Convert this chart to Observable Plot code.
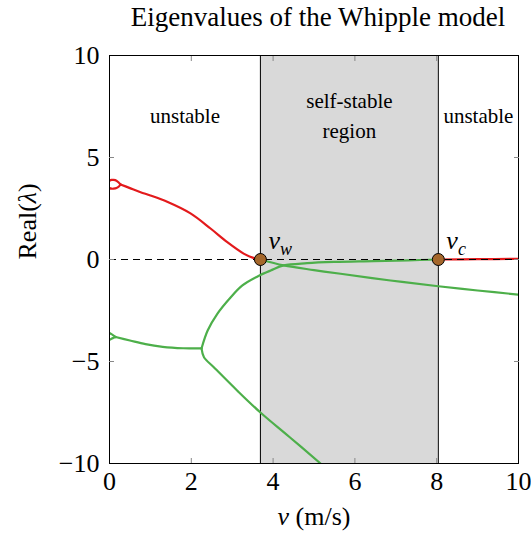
<!DOCTYPE html>
<html><head><meta charset="utf-8">
<script src="https://cdn.jsdelivr.net/npm/d3@7"></script>
<script src="https://cdn.jsdelivr.net/npm/@observablehq/plot@0.6"></script>
<style>
body{margin:0;background:#fff}
#chart svg, #chart svg text, #chart svg g {font-family: "Liberation Serif", "Times New Roman", serif !important;}
</style>
</head><body><div id="chart"></div>
<script>
// ---- data ----
const title = "Eigenvalues of the Whipple model";
const xTicks = [0, 2, 4, 6, 8, 10];
const yTicks = [-10, -5, 0, 5, 10];
const vW = 3.69;   // weave speed
const vC = 8.04;   // capsize speed
const regionLabels = ["unstable", "self-stable\nregion", "unstable"];

// red (unstable) branches
const redLoopUpV = [0, 0.05, 0.1, 0.17, 0.23, 0.27];
const redLoopUpRe = [3.86, 3.9, 3.9, 3.86, 3.76, 3.68];
const redLoopLoV = [0, 0.05, 0.1, 0.17, 0.23, 0.27];
const redLoopLoRe = [3.5, 3.47, 3.47, 3.5, 3.58, 3.68];
const redWeaveV = [0.27, 0.5, 0.76, 1.0, 1.41, 1.98, 2.47, 2.88, 3.28, 3.5, 3.69];
const redWeaveRe = [3.68, 3.5, 3.3, 3.14, 2.83, 2.26, 1.52, 0.85, 0.29, 0.09, 0];
const redCapsizeV = [8.04, 9.0, 10];
const redCapsizeRe = [0, 0.015, 0.03];

// green (stable) branches
const grnLoopUpV = [0, 0.05, 0.1, 0.15];
const grnLoopUpRe = [-3.6, -3.66, -3.73, -3.8];
const grnLoopLoV = [0, 0.05, 0.1, 0.15];
const grnLoopLoRe = [-3.93, -3.88, -3.84, -3.8];
const grnCasterV = [0.15, 0.5, 0.88, 1.3, 1.8, 2.25];
const grnCasterRe = [-3.8, -3.97, -4.15, -4.28, -4.35, -4.36];
const grnCapsizeV = [2.25, 2.4, 2.64, 2.96, 3.25, 3.62, 3.94, 4.26, 4.83, 5.5, 6.46, 7.3, 8.04];
const grnCapsizeRe = [-4.36, -3.48, -2.65, -1.86, -1.27, -0.83, -0.54, -0.29, -0.18, -0.12, -0.08, -0.04, 0];
const grnDownV = [2.25, 2.31, 2.55, 3.12, 3.69, 4.4, 5.16, 5.3];
const grnDownRe = [-4.36, -4.79, -5.28, -6.42, -7.5, -8.7, -10, -10.25];
const grnWeaveV = [3.69, 4.26, 5.0, 5.65, 6.87, 8.04, 9.0, 10];
const grnWeaveRe = [0, -0.29, -0.52, -0.70, -1.03, -1.31, -1.52, -1.72];

const RED = "#e31a1c", GREEN = "#4daf4a";
const toRows = (id, vs, res) => vs.map((v, i) => ({id, v, re: res[i]}));
const redRows = [
  ...toRows("rlu", redLoopUpV, redLoopUpRe),
  ...toRows("rll", redLoopLoV, redLoopLoRe),
  ...toRows("rw", redWeaveV, redWeaveRe),
  ...toRows("rc", redCapsizeV, redCapsizeRe)
];
const grnRows = [
  ...toRows("glu", grnLoopUpV, grnLoopUpRe),
  ...toRows("gll", grnLoopLoV, grnLoopLoRe),
  ...toRows("gca", grnCasterV, grnCasterRe),
  ...toRows("gcp", grnCapsizeV, grnCapsizeRe),
  ...toRows("gd", grnDownV, grnDownRe),
  ...toRows("gw", grnWeaveV, grnWeaveRe)
];
const regions = [
  {label: regionLabels[0], x: (0 + vW) / 2},
  {label: regionLabels[1], x: (vW + vC) / 2},
  {label: regionLabels[2], x: (vC + 10) / 2}
];
const crit = [{v: vW, re: 0, name: "vw"}, {v: vC, re: 0, name: "vc"}];
const innerX = xTicks.slice(1, -1), innerY = yTicks.slice(1, -1);
const FONT = "Liberation Serif";

const chart = Plot.plot({
  width: 531, height: 533,
  marginLeft: 109, marginRight: 13, marginTop: 55, marginBottom: 70,
  x: {domain: [0, 10]},
  y: {domain: [-10, 10]},
  style: {fontFamily: FONT, fontSize: "26px", background: "white", color: "black"},
  marks: [
    Plot.rect([{x1: vW, x2: vC}], {x1: "x1", x2: "x2", fill: "#d9d9d9"}),
    Plot.ruleX([vW, vC], {stroke: "black", strokeWidth: 1}),
    Plot.line(grnRows, {x: "v", y: "re", z: "id", stroke: GREEN, strokeWidth: 2.2, curve: "catmull-rom", clip: true}),
    Plot.line(redRows, {x: "v", y: "re", z: "id", stroke: RED, strokeWidth: 2.2, curve: "catmull-rom", clip: true}),
    Plot.ruleY([0], {stroke: "black", strokeWidth: 1, strokeDasharray: "7,5"}),
    Plot.dot(crit, {x: "v", y: "re", r: 6, fill: "#a5672b", stroke: "black", strokeWidth: 1}),
    Plot.text(crit, {x: "v", y: "re", text: "name", textAnchor: "start", dx: 8, dy: -19, fontSize: 26, fontFamily: FONT}),
    Plot.text(regions, {x: "x", frameAnchor: "top", text: "label", dy: 58, lineAnchor: "middle", fontSize: 21, lineHeight: 1.43, fontFamily: FONT}),
    Plot.frame({stroke: "black", strokeWidth: 1}),
    // inward ticks on all four sides
    Plot.axisX(innerX, {anchor: "bottom", tickSize: -5, tickFormat: () => "", stroke: "#888", label: null}),
    Plot.axisX(innerX, {anchor: "top", tickSize: -5, tickFormat: () => "", stroke: "#888", label: null}),
    Plot.axisY(innerY, {anchor: "left", tickSize: -5, tickFormat: () => "", stroke: "#888", label: null}),
    Plot.axisY(innerY, {anchor: "right", tickSize: -5, tickFormat: () => "", stroke: "#888", label: null}),
    // tick labels
    Plot.axisX(xTicks, {anchor: "bottom", tickSize: 0, tickPadding: 8, fontSize: 26, fontFamily: FONT, label: null}),
    Plot.axisY(yTicks, {anchor: "left", tickSize: 0, tickPadding: 10, fontSize: 26, fontFamily: FONT, label: null}),
    // axis labels and title
    Plot.text(["v (m/s)"], {frameAnchor: "bottom", text: d => d, dy: 53, lineAnchor: "middle", fontSize: 26, fontFamily: FONT}),
    Plot.text(["Real(λ)"], {frameAnchor: "left", text: d => d, rotate: -90, dx: -82, lineAnchor: "middle", fontSize: 26, fontFamily: FONT}),
    Plot.text([title], {frameAnchor: "top", text: d => d, dx: 4, dy: -30, lineAnchor: "bottom", fontSize: 27, fontFamily: FONT})
  ]
});
document.getElementById("chart").appendChild(chart);

// math styling (italic v, λ, subscripts)
chart.querySelectorAll("text").forEach(t => {
  const s = t.textContent;
  if (s === "v (m/s)") t.innerHTML = '<tspan font-style="italic">v</tspan> (m/s)';
  else if (s === "Real(λ)") t.innerHTML = 'Real(<tspan font-style="italic">λ</tspan>)';
  else if (s === "vw" || s === "vc") {
    t.innerHTML = '<tspan font-style="italic">v</tspan><tspan font-style="italic" font-size="18" dy="6">' + s[1] + '</tspan>';
  }
});
</script>
</body></html>
